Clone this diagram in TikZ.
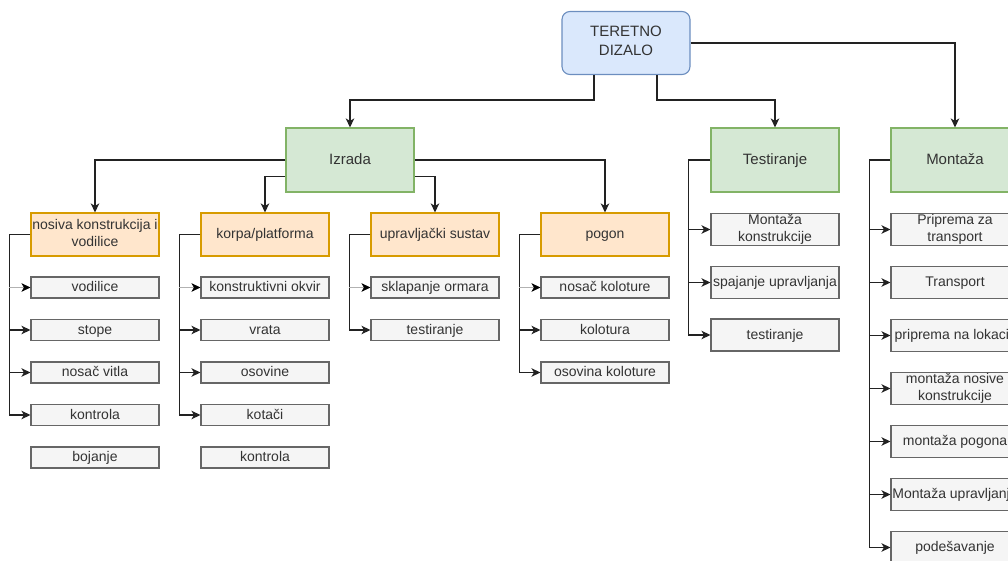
\documentclass[tikz,border=0pt]{standalone}
\usepackage{fontspec}
\setmainfont{Liberation Sans}
\usetikzlibrary{arrows.meta,calc}
\definecolor{blueF}{HTML}{DAE8FC}
\definecolor{blueD}{HTML}{6C8EBF}
\definecolor{greenF}{HTML}{D5E8D4}
\definecolor{greenD}{HTML}{82B366}
\definecolor{orangeF}{HTML}{FFE6CC}
\definecolor{orangeD}{HTML}{D79B00}
\definecolor{grayF}{HTML}{F5F5F5}
\definecolor{grayD}{HTML}{666666}
\definecolor{txt}{HTML}{333333}
\definecolor{lineC}{HTML}{222222}
\newcommand\mystrut{\rule[-0.28em]{0pt}{1.2em}}
\begin{document}
\begin{tikzpicture}[x=1pt,y=-1pt,
 every node/.style={font=\fontsize{14}{17}\selectfont, text=txt, inner sep=0pt, align=center,
   execute at begin node=\mystrut, execute at end node=\mystrut},
 rootbox/.style={draw=blueD, fill=blueF, rounded corners=8pt, minimum width=128pt, minimum height=63pt, line width=1.1pt, font=\fontsize{15}{19}\selectfont},
 mainbox/.style={draw=greenD, fill=greenF, minimum width=128pt, minimum height=64pt, line width=1.1pt, font=\fontsize{15}{18}\selectfont},
 subbox/.style={draw=orangeD, fill=orangeF, minimum width=128pt, minimum height=43pt, line width=1.1pt},
 leafbox/.style={draw=grayD, fill=grayF, minimum width=128pt, minimum height=21pt, line width=1.1pt},
 tallleaf/.style={leafbox, minimum height=32pt},
 conn/.style={draw=lineC, line width=1.3pt, -{Stealth[length=9pt,width=8.5pt,inset=2.5pt]}},
 lightconn/.style={draw=gray!60, line width=0.6pt, -{Stealth[length=9pt,width=8.5pt,inset=2.5pt,color=black]}}
]
\useasboundingbox (0,0) rectangle (1008,561);
\clip (0,0) rectangle (1008,561);

% top level
\node[rootbox] (root) at (626,43) {TERETNO\\DIZALO};
\node[mainbox] (izrada) at (350,160) {Izrada};
\node[mainbox] (testir) at (775,160) {Testiranje};
\node[mainbox] (montaza) at (955,160) {Montaža};

% Izrada sub-groups
\node[subbox] (nosiva) at (95,234.5) {nosiva konstrukcija i\\vodilice};
\node[subbox] (korpa) at (265,234.5) {korpa/platforma};
\node[subbox] (uprav) at (435,234.5) {upravljački sustav};
\node[subbox] (pogon) at (605,234.5) {pogon};

% leaves: nosiva
\node[leafbox] (n1) at (95,287.5) {vodilice};
\node[leafbox] (n2) at (95,330) {stope};
\node[leafbox] (n3) at (95,372.5) {nosač vitla};
\node[leafbox] (n4) at (95,415) {kontrola};
\node[leafbox] (n5) at (95,457.5) {bojanje};
% leaves: korpa
\node[leafbox] (k1) at (265,287.5) {konstruktivni okvir};
\node[leafbox] (k2) at (265,330) {vrata};
\node[leafbox] (k3) at (265,372.5) {osovine};
\node[leafbox] (k4) at (265,415) {kotači};
\node[leafbox] (k5) at (265,457.5) {kontrola};
% leaves: upravljacki
\node[leafbox] (u1) at (435,287.5) {sklapanje ormara};
\node[leafbox] (u2) at (435,330) {testiranje};
% leaves: pogon
\node[leafbox] (p1) at (605,287.5) {nosač koloture};
\node[leafbox] (p2) at (605,330) {kolotura};
\node[leafbox] (p3) at (605,372.5) {osovina koloture};
% leaves: testiranje
\node[tallleaf] (t1) at (775,229.5) {Montaža\\konstrukcije};
\node[tallleaf] (t2) at (775,282.5) {spajanje upravljanja};
\node[tallleaf] (t3) at (775,335) {testiranje};
% leaves: montaza
\node[tallleaf] (m1) at (955,229.5) {Priprema za\\transport};
\node[tallleaf] (m2) at (955,282.5) {Transport};
\node[tallleaf] (m3) at (955,335.5) {priprema na lokaciji};
\node[tallleaf] (m4) at (955,388.5) {montaža nosive\\konstrukcije};
\node[tallleaf] (m5) at (955,441.5) {montaža pogona};
\node[tallleaf] (m6) at (955,494.5) {Montaža upravljanja};
\node[tallleaf] (m7) at (955,547.5) {podešavanje};

% top connectors
\coordinate (tl) at (594,100);
\coordinate (tr) at (657,100);
\draw[conn] (root.south -| tl) -- (tl) -| (izrada.north);
\draw[conn] (root.south -| tr) -- (tr) -| (testir.north);
\draw[conn] (root.east) -| (montaza.north);

% Izrada connectors
\draw[conn] (izrada.west) -| (nosiva.north);
\draw[conn] (izrada.east) -| (pogon.north);
\draw[conn] ($(izrada.south west)+(0,-16)$) -| (korpa.north);
\draw[conn] ($(izrada.south east)+(0,-16)$) -| (uprav.north);

% nosiva group
\coordinate (nv) at ($(nosiva.west)+(-21,0)$);
\draw[conn] (nosiva.west) -- (nv) |- (n4.west);
\draw[lightconn] (nv |- n1.west) -- (n1.west);
\draw[conn] (nv |- n2.west) -- (n2.west);
\draw[conn] (nv |- n3.west) -- (n3.west);

% korpa group
\coordinate (kv) at ($(korpa.west)+(-21,0)$);
\draw[conn] (korpa.west) -- (kv) |- (k4.west);
\draw[lightconn] (kv |- k1.west) -- (k1.west);
\draw[conn] (kv |- k2.west) -- (k2.west);
\draw[conn] (kv |- k3.west) -- (k3.west);

% upravljacki group
\coordinate (uv) at ($(uprav.west)+(-21,0)$);
\draw[conn] (uprav.west) -- (uv) |- (u2.west);
\draw[lightconn] (uv |- u1.west) -- (u1.west);

% pogon group
\coordinate (pv) at ($(pogon.west)+(-21,0)$);
\draw[conn] (pogon.west) -- (pv) |- (p3.west);
\draw[lightconn] (pv |- p1.west) -- (p1.west);
\draw[conn] (pv |- p2.west) -- (p2.west);

% testiranje group
\coordinate (tv) at ($(testir.west)+(-22,0)$);
\draw[conn] (testir.west) -- (tv) |- (t3.west);
\draw[conn] (tv |- t1.west) -- (t1.west);
\draw[conn] (tv |- t2.west) -- (t2.west);

% montaza group
\coordinate (mv) at ($(montaza.west)+(-21,0)$);
\draw[conn] (montaza.west) -- (mv) |- (m7.west);
\draw[conn] (mv |- m1.west) -- (m1.west);
\draw[conn] (mv |- m2.west) -- (m2.west);
\draw[conn] (mv |- m3.west) -- (m3.west);
\draw[conn] (mv |- m4.west) -- (m4.west);
\draw[conn] (mv |- m5.west) -- (m5.west);
\draw[conn] (mv |- m6.west) -- (m6.west);
\end{tikzpicture}
\end{document}
